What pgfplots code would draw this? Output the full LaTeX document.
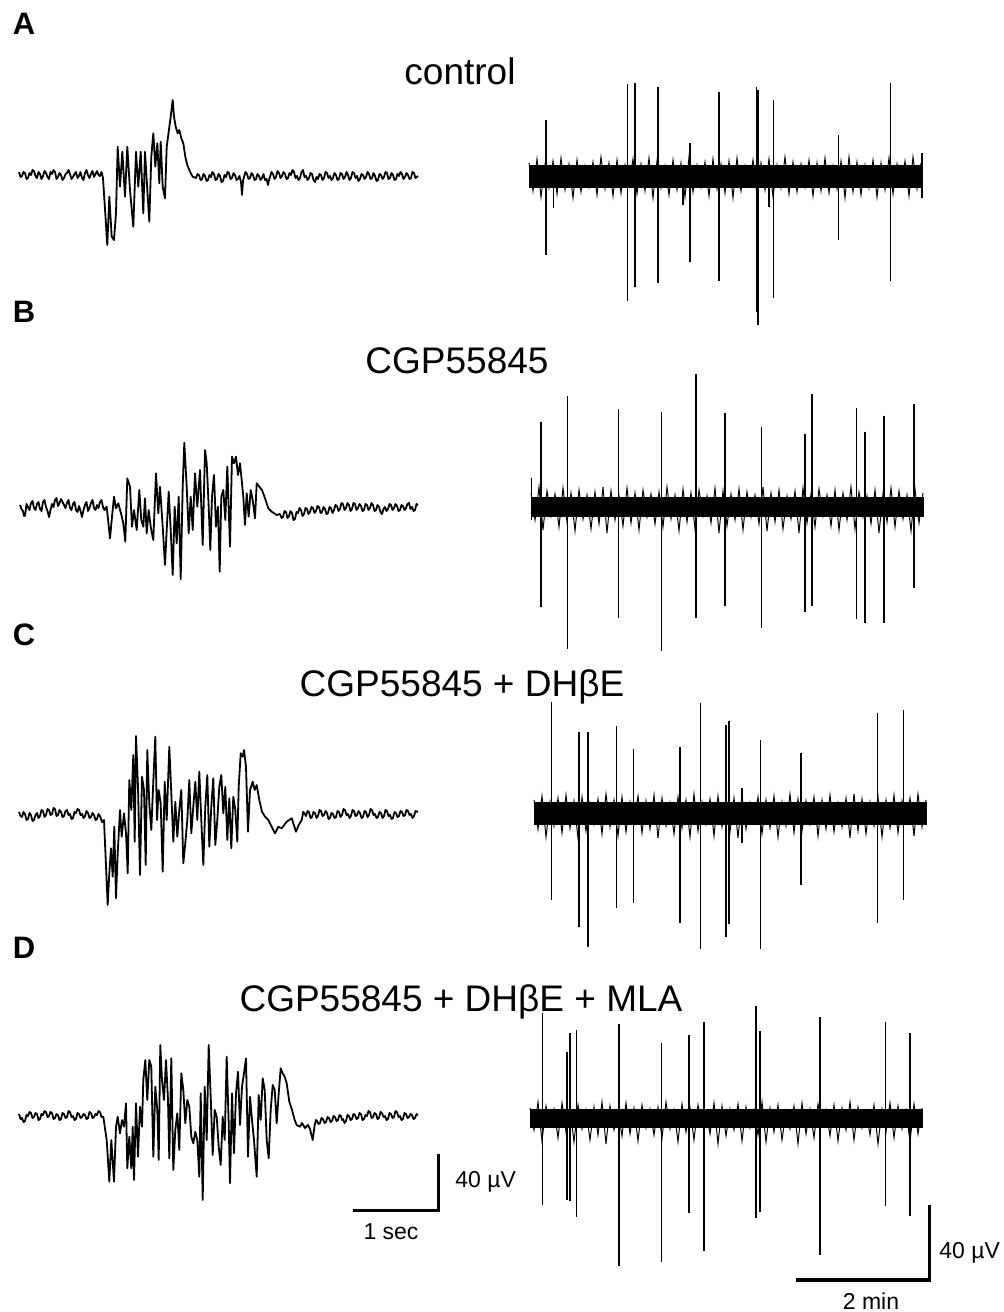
\documentclass[border=0pt]{standalone}
\usepackage{fontspec}
\setmainfont{Liberation Sans}
\usepackage{pgfplots}
\usepackage{pgfplotstable}
\pgfplotsset{compat=1.18}
\begin{document}
% fast noise of the long recordings: alternating upper / lower excursions (pixel units, y downward)
\pgfplotstableread{
x y
529 163
533 191
537 159
541 197
545 165
549 188
553 161
557 194
561 158
565 190
569 164
573 198
577 160
581 192
585 166
589 187
593 162
597 195
601 157
605 189
609 163
613 196
617 160
621 193
625 165
629 186
633 159
637 194
641 164
645 191
649 158
653 198
657 161
661 188
665 166
669 195
673 160
677 190
681 163
685 197
689 157
693 192
697 165
701 187
705 162
709 196
713 159
717 189
721 164
725 193
729 161
733 198
737 158
741 191
745 166
749 186
753 160
757 195
761 163
765 190
769 159
773 197
777 165
781 188
785 157
789 194
793 162
797 192
801 164
805 187
809 160
813 196
817 163
821 191
825 158
829 193
833 166
837 189
841 161
845 198
849 157
853 192
857 162
861 195
865 165
869 188
873 160
877 197
881 163
885 190
889 158
893 194
897 164
901 186
905 161
909 196
913 157
917 189
921 163
}\noiseA
\pgfplotstableread{
x y
531 493
535 520
539 487
543 530
547 491
551 516
555 494
559 527
563 488
567 522
571 493
575 531
579 490
583 519
587 495
591 529
595 492
599 524
603 487
607 533
611 491
615 520
619 496
623 526
627 488
631 523
635 493
639 530
643 490
647 517
651 494
655 524
659 492
663 527
667 487
671 519
675 495
679 531
683 489
687 522
691 493
695 529
699 490
703 516
707 496
711 523
715 488
719 533
723 491
727 526
731 494
735 520
739 489
743 530
747 492
751 517
755 495
759 524
763 487
767 531
771 493
775 522
779 490
783 529
787 496
791 519
795 491
799 533
803 488
807 523
811 494
815 527
819 489
823 516
827 495
831 526
835 490
839 530
843 493
847 520
851 487
855 529
859 492
863 517
867 496
871 524
875 490
879 533
883 494
887 522
891 488
895 527
899 491
903 519
907 495
911 531
915 489
919 523
923 493
}\noiseB
\pgfplotstableread{
x y
534 800
538 829
542 796
546 837
550 802
554 826
558 798
562 833
566 795
570 828
574 801
578 838
582 797
586 831
590 803
594 824
598 799
602 834
606 794
610 827
614 800
618 836
622 797
626 832
630 802
634 823
638 796
642 833
646 801
650 829
654 795
658 838
662 798
666 826
670 803
674 834
678 797
682 828
686 800
690 837
694 794
698 831
702 802
706 824
710 799
714 836
718 796
722 827
726 801
730 832
734 798
738 838
742 795
746 829
750 803
754 823
758 797
762 834
766 800
770 828
774 796
778 837
782 802
786 826
790 794
794 833
798 799
802 831
806 801
810 824
814 797
818 836
822 800
826 829
830 795
834 832
838 803
842 827
846 798
850 838
854 794
858 831
862 799
866 834
870 802
874 826
878 797
882 837
886 800
890 828
894 795
898 833
902 801
906 823
910 798
914 836
918 794
922 827
926 800
}\noiseC
\pgfplotstableread{
x y
530 1108
534 1130
538 1102
542 1141
546 1106
550 1126
554 1109
558 1138
562 1103
566 1132
570 1108
574 1142
578 1105
582 1129
586 1110
590 1140
594 1107
598 1135
602 1102
606 1144
610 1106
614 1130
618 1111
622 1136
626 1103
630 1134
634 1108
638 1141
642 1105
646 1128
650 1109
654 1135
658 1107
662 1138
666 1102
670 1129
674 1110
678 1142
682 1104
686 1132
690 1108
694 1140
698 1105
702 1126
706 1111
710 1134
714 1103
718 1144
722 1106
726 1136
730 1109
734 1130
738 1104
742 1141
746 1107
750 1128
754 1110
758 1135
762 1102
766 1142
770 1108
774 1132
778 1105
782 1140
786 1111
790 1129
794 1106
798 1144
802 1103
806 1134
810 1109
814 1138
818 1104
822 1126
826 1110
830 1136
834 1105
838 1141
842 1108
846 1130
850 1102
854 1140
858 1107
862 1128
866 1111
870 1135
874 1105
878 1144
882 1109
886 1132
890 1103
894 1138
898 1106
902 1129
906 1110
910 1142
914 1104
918 1134
922 1108
}\noiseD
\begin{tikzpicture}
\begin{axis}[
    scale only axis,
    width=502pt, height=656pt,
    xmin=0, xmax=1004, ymin=0, ymax=1312,
    y dir=reverse,
    hide axis, clip=false,
    trace/.style={black, line width=0.9pt, line join=round, mark=none},
    spike/.style={black, line width=0.7pt, mark=none, unbounded coords=jump},
    hair/.style={black, line width=0.5pt, line join=miter, mark=none},
    core/.style={fill=black, draw=black, line width=0.4pt, mark=none},
    scalebar/.style={black, line width=1.6pt, mark=none},
]
\path (axis cs:0,0) rectangle (axis cs:1004,1312);

% ---------- A: control ----------
\addplot[trace] coordinates {
(19,172)(20.5,177)(22,176)(23.5,172)(25,173)(26.5,179)(28,178)(29.5,173)(31,175)(32.5,170)
(34,171)(35.5,176)(37,178)(38.5,172)(40,174)(41.5,179)(43,176)(44.5,171)(46,173)(47.5,177)
(49,179)(50.5,172)(52,174)(53.5,170)(55,172)(56.5,179)(58,177)(59.5,173)(61,175)(62.5,180)
(64,178)(65.5,174)(67,173)(68.5,170)(70,174)(71.5,179)(73,177)(74.5,174)(76,172)(77.5,178)
(79,176)(80.5,172)(82,178)(83.5,180)(85,173)(86.5,170)(88,175)(89.5,178)(91,174)(92.5,171)
(94,177)(95.5,174)(97,171)(98.5,175)(100,176)(101.5,172)(103,178)
(107.3,245)(109.3,196.7)(111.7,236.7)(114,240)(116,213)(117.7,146.7)(120,186.7)
(122.3,151.7)(125,196.7)(127.3,146.7)(130,190)(133.3,226.7)(136,151.7)(138.3,186.7)
(140.7,151.7)(143.3,213.3)(145,151.7)(147.3,190)(149.3,221.7)(151.3,156.7)(153.3,133.3)
(155.3,166.7)(157.3,143.3)(159.3,183.3)(160.7,141.7)(162.7,186.7)(165,198.3)(166.7,146.7)
(168.7,131.7)(170.7,116.7)(172.7,100)(174,116.7)(175.7,126.7)(177.7,133.3)(179.3,130)
(181.3,138.3)(183.3,143.3)(185.3,156.7)(187.3,165)(190,171.7)(192.7,176.7)
(196,178)(197.5,174)(199,175)(200.5,180)(202,179)(203.5,174)(205,176)(206.5,181)(208,180)
(209.5,175)(211,177)(212.5,172)(214,174)(215.5,180)(217,179)(218.5,174)(220,176)(221.5,182)
(223,181)(224.5,175)(226,177)(227.5,172)(229,173)(230.5,179)(232,178)(233.5,173)(235,175)
(236.5,180)(238,179)(239.5,176)(241,182)(242,195)(243,181)(244,177)(245.5,172)(247,174)
(248.5,179)(250,178)(251.5,173)(253,175)(254.5,180)(256,179)(257.5,174)(259,176)(260.5,180)
(262,178)(263.5,174)(265,180)(266.5,179)(268,185)(269,180)(270,177)(271.5,172)(273,174)
(274.5,179)(276,177)(277.5,171)(279,173)(280.5,178)(282,176)(283.5,172)(285,174)(286.5,179)
(288,178)(289.5,173)(291,175)(292.5,170)(294,172)(295.5,178)(297,176)(298.5,180)(300,178)
(301.5,172)(303,170)(304.5,177)(306,176)(307.5,180)(309,178)(310.5,173)(312,174)(313.5,180)
(315,182)(316.5,177)(318,179)(319.5,174)(321,175)(322.5,180)(324,178)(325.5,172)(327,173)
(328.5,178)(330,176)(331.5,180)(333,178)(334.5,173)(336,175)(337.5,180)(339,179)(340.5,173)
(342,174)(343.5,179)(345,177)(346.5,172)(348,175)(349.5,180)(351,178)(352.5,172)(354,173)
(355.5,178)(357,176)(358.5,181)(360,179)(361.5,174)(363,175)(364.5,179)(366,177)(367.5,172)
(369,174)(370.5,179)(372,178)(373.5,173)(375,176)(376.5,181)(378,180)(379.5,174)(381,175)
(382.5,179)(384,177)(385.5,172)(387,173)(388.5,179)(390,178)(391.5,173)(393,175)(394.5,180)
(396,179)(397.5,174)(399,176)(400.5,172)(402,174)(403.5,179)(405,177)(406.5,173)(408,175)
(409.5,179)(411,178)(412.5,172)(414,173)(415.5,178)(418,176)
};
\addplot[core] coordinates {(529,165)(922,165)(922,187)(529,187)};
\addplot[hair] table[x=x, y=y] {\noiseA};
\addplot[spike] coordinates {
(546,120)(546,255)(546,nan)
(553.3,186)(553.3,208)(553.3,nan)
(627.3,84)(627.3,300.7)(627.3,nan)
(635,83.3)(635,286.7)(635,nan)
(658,87.3)(658,283.3)(658,nan)
(683,186)(683,205)(683,nan)
(690,142.7)(690,261.7)(690,nan)
(719,91.7)(719,280.7)(719,nan)
(756.7,86.7)(756.7,311.7)(756.7,nan)
(758,90)(758,325)(758,nan)
(769,186)(769,206.7)(769,nan)
(773.3,100)(773.3,298.3)(773.3,nan)
(838.3,135)(838.3,240)(838.3,nan)
(890.7,82.7)(890.7,280.7)(890.7,nan)
(922,153)(922,198)
};

% ---------- B: CGP55845 ----------
\addplot[trace] coordinates {
(20,505)(21.5,509)(23,511)(24,516)(25,516)(26.5,504)(28,507)(29.5,510)(31,503)(32.5,501)
(34,508)(35.5,510)(37,504)(38.5,502)(40,509)(41.5,511)(43,502)(44.5,500)(46,507)(47.5,511)
(49,517)(50.5,510)(52,504)(53.5,507)(55,500)(56.5,498)(58,506)(59.5,503)(61,499)(62.5,502)
(64,505)(65.5,508)(67,503)(68.5,500)(70,508)(71.5,510)(73,504)(74.5,502)(76,510)(77.5,512)
(79,506)(80.5,511)(82,517)(83.5,510)(85,505)(86.5,502)(88,511)(89.5,508)(91,503)(92.5,500)
(94,508)(95.5,510)(97,505)(98.5,508)(100,502)(101.5,500)(103,507)(104.5,510)(106.7,506.7)
(110,538.3)(111.7,520)(114,496.7)(116,508.3)(118.3,503.3)(121,513.3)(123.3,523.3)
(125.3,541.7)(127.3,478.3)(130,486.7)(132,526.7)(134,510)(136.7,530)(139.3,490)
(141.3,520)(143.3,526.7)(145,498.3)(146.7,533.3)(148.7,510)(150.7,526.7)(153.3,540)
(156,473.3)(158.3,513.3)(160,486.7)(162.7,526.7)(165,565)(166.7,530)(168.7,491.7)
(170.7,530)(172.7,575)(174.7,506.7)(176.7,543.3)(178.7,496.7)(180.7,579.3)(182.7,486.7)
(184.3,442.7)(186.7,486.7)(188.7,533.3)(190.7,496.7)(192.7,530)(195,473.3)(197.3,506.7)
(200,470)(202.7,545)(205,450)(206.7,463.3)(208.7,506.7)(210.3,550)(212,496.7)(214,475)
(216,526.7)(218,506.7)(219.7,571.7)(221.3,496.7)(223.3,490)(225.3,520)(227.3,466.7)
(230,546.7)(232,456.7)(234,463.3)(236,456.7)(238,475)(240,463.3)(241.7,480)(243.3,496.7)
(245,525)(246.7,493.3)(248.7,516.7)(250.7,490)(252.7,500)(255,518.3)(256.7,483.3)
(259.3,486.7)(262,490)(265,498.3)(268.3,508.3)(271.7,511.7)(276.7,515)
(280,514)(281.5,518)(283,517)(284.5,511)(286,512)(287.5,518)(289,516)(290.5,511)(292,513)
(293.5,520)(295,519)(296.5,512)(298,513)(299.5,508)(301,510)(302.5,516)(304,514)(305.5,508)
(307,509)(308.5,514)(310,512)(311.5,507)(313,508)(314.5,513)(316,511)(317.5,506)(319,507)
(320.5,513)(322,512)(323.5,507)(325,509)(326.5,514)(328,513)(329.5,507)(331,508)(332.5,513)
(334,510)(335.5,505)(337,506)(338.5,511)(340,509)(341.5,503)(343,504)(344.5,510)(346,508)
(347.5,503)(349,505)(350.5,511)(352,509)(353.5,503)(355,504)(356.5,510)(358,508)(359.5,504)
(361,506)(362.5,511)(364,510)(365.5,504)(367,505)(368.5,510)(370,508)(371.5,503)(373,505)
(374.5,511)(376,510)(377.5,505)(379,507)(380.5,512)(382,514)(383.5,509)(385,507)(386.5,511)
(388,509)(389.5,504)(391,505)(392.5,510)(394,508)(395.5,504)(397,506)(398.5,511)(400,510)
(401.5,505)(403,506)(404.5,510)(406,508)(407.5,504)(409,503)(410.5,509)(412,507)(413.5,511)
(415,510)(416.5,504)(418,505)
};
\addplot[core] coordinates {(531,497)(923,497)(923,516)(531,516)};
\addplot[hair] table[x=x, y=y] {\noiseB};
\addplot[spike] coordinates {
(531.7,478)(531.7,520)(531.7,nan)
(541,421.7)(541,606.7)(541,nan)
(567.7,396)(567.7,649.3)(567.7,nan)
(618.7,409.3)(618.7,618.3)(618.7,nan)
(661.7,411.7)(661.7,650.7)(661.7,nan)
(696,374)(696,618.3)(696,nan)
(725,412.7)(725,606)(725,nan)
(761.7,427.3)(761.7,628.3)(761.7,nan)
(805,434)(805,611.7)(805,nan)
(812,394)(812,606)(812,nan)
(856.7,408.3)(856.7,619.3)(856.7,nan)
(865,431.7)(865,622.7)(865,nan)
(884,415.7)(884,622.7)(884,nan)
(914,404)(914,588.3)
};

% ---------- C: CGP55845 + DHbE ----------
\addplot[trace] coordinates {
(19,812)(20.5,816)(22,817)(23.5,812)(25,814)(26.5,820)(28,819)(29.5,813)(31,815)(32.5,821)
(34,820)(35.5,815)(37,813)(38.5,818)(40,816)(41.5,810)(43,811)(44.5,817)(46,815)(47.5,809)
(49,810)(50.5,815)(52,814)(53.5,808)(55,809)(56.5,816)(58,815)(59.5,810)(61,812)(62.5,817)
(64,816)(65.5,811)(67,810)(68.5,815)(70,814)(71.5,819)(73,818)(74.5,812)(76,813)(77.5,809)
(79,810)(80.5,815)(82,814)(83.5,818)(85,816)(86.5,811)(88,813)(89.5,818)(91,817)(92.5,813)
(94,815)(95.5,820)(97,819)(98.5,814)(100,816)(102,822)(104,820)
(107.7,905)(109.3,873.3)(111,848.3)(112.7,876.7)(114.3,826.7)(116,898.3)(117.7,853.3)
(120,810)(121.7,836.7)(124,813.3)(126,833.3)(127.7,873.3)(129.3,780)(131.3,810)
(133.3,755)(134.7,841.7)(136,736)(138,786.7)(140,875)(142,776.7)(144,790)(145.7,865)
(147.3,750)(149.3,803.3)(151.3,830)(153.3,781.7)(155.3,736.7)(157,820)(158.7,790)
(160.7,803.3)(162.7,871.7)(164.7,781.7)(166.7,820)(169.3,746.7)(171.3,793.3)(173.3,841.7)
(175.3,801.7)(177.3,836.7)(179.3,810)(181.3,790)(183.3,863.3)(185.3,843.3)(187.3,820)
(189.3,780)(191.3,833.3)(193.3,806.7)(195.3,781.7)(197.3,820)(199.3,771.7)(201.3,820)
(203.3,865)(205.3,806.7)(207.3,775)(209.3,846.7)(211.3,806.7)(213.3,778.3)(215.3,845)
(217.3,820)(219.3,786.7)(221.3,775)(223.3,813.3)(225.3,786.7)(227.3,840)(229.3,798.3)
(231.3,848.3)(233.3,796.7)(235.3,810)(237.3,841.7)(238.7,786.7)(240.7,753.3)(242.7,756.7)
(244,750)(246,766.7)(248,831.7)(250,790)(252.7,781.7)(254.7,790)(256.7,785)(259.3,800)
(262,811.7)(265,816.7)(268.3,820)(271.7,826.7)(275,833.3)(278.3,826.7)(281.7,828.3)
(286.7,821.7)(291.7,818.3)(296,831.7)(298.7,825)(301.7,820)(303.3,811.7)
(306,816)(307.5,811)(309,812)(310.5,818)(312,817)(313.5,812)(315,813)(316.5,818)(318,816)
(319.5,810)(321,811)(322.5,816)(324,815)(325.5,811)(327,813)(328.5,819)(330,818)(331.5,813)
(333,814)(334.5,818)(336,817)(337.5,811)(339,812)(340.5,817)(342,815)(343.5,809)(345,810)
(346.5,815)(348,814)(349.5,818)(351,816)(352.5,810)(354,811)(355.5,816)(357,815)(358.5,811)
(360,813)(361.5,818)(363,817)(364.5,811)(366,812)(367.5,817)(369,815)(370.5,809)(372,810)
(373.5,815)(375,814)(376.5,818)(378,817)(379.5,812)(381,813)(382.5,818)(384,816)(385.5,810)
(387,811)(388.5,816)(390,815)(391.5,819)(393,818)(394.5,812)(396,813)(397.5,817)(399,816)
(400.5,811)(402,812)(403.5,816)(405,815)(406.5,810)(408,811)(409.5,815)(411,814)(412.5,818)
(414,816)(415.5,811)(418,812)
};
\addplot[core] coordinates {(534,802)(926,802)(926,824)(534,824)};
\addplot[hair] table[x=x, y=y] {\noiseC};
\addplot[spike] coordinates {
(551.7,701.7)(551.7,900)(551.7,nan)
(579,731.7)(579,927.3)(579,nan)
(588,731.7)(588,946.7)(588,nan)
(616.3,726)(616.3,908.3)(616.3,nan)
(633.3,749.3)(633.3,903.3)(633.3,nan)
(680,746.7)(680,923.3)(680,nan)
(700.7,703.3)(700.7,949.3)(700.7,nan)
(726,725)(726,936.7)(726,nan)
(729,720.7)(729,924)(729,nan)
(742,788.3)(742,843.3)(742,nan)
(760.7,740)(760.7,949.3)(760.7,nan)
(801,752.7)(801,885)(801,nan)
(877.7,712.7)(877.7,922.7)(877.7,nan)
(903.7,710)(903.7,900)
};

% ---------- D: CGP55845 + DHbE + MLA ----------
\addplot[trace] coordinates {
(19,1114)(20.5,1119)(22,1118)(23.5,1122)(25,1121)(26.5,1115)(28,1116)(29.5,1112)(31,1113)
(32.5,1118)(34,1117)(35.5,1113)(37,1114)(38.5,1120)(40,1119)(41.5,1114)(43,1115)(44.5,1111)
(46,1112)(47.5,1117)(49,1116)(50.5,1112)(52,1113)(53.5,1119)(55,1118)(56.5,1114)(58,1115)
(59.5,1120)(61,1119)(62.5,1113)(64,1114)(65.5,1118)(67,1117)(68.5,1111)(70,1112)(71.5,1117)
(73,1116)(74.5,1120)(76,1119)(77.5,1113)(79,1114)(80.5,1118)(82,1117)(83.5,1114)(85,1115)
(86.5,1119)(88,1118)(89.5,1112)(91,1113)(92.5,1118)(94,1117)(95.5,1114)(97,1115)(98.5,1111)
(100,1112)(101.5,1117)(103.3,1116.7)
(106.7,1140)(109.3,1181.7)(111.3,1140)(114,1181.7)(116,1126.7)(117.7,1116.7)(120,1133.3)
(122,1120)(124,1126.7)(126,1103.3)(127.3,1168.3)(129.3,1136.7)(131.3,1168.3)(132.7,1126.7)
(134,1180)(136,1103.3)(138,1156.7)(140,1106.7)(142,1126.7)(143.3,1080)(145.3,1060)
(147.3,1100)(149.3,1060)(151.3,1066.7)(153.3,1156.7)(155.3,1086.7)(157.3,1110)(158.7,1160)
(160.3,1045)(162,1080)(164,1100)(166,1060)(168,1100)(169.3,1158.3)(171.3,1058.3)
(173.3,1170)(175.3,1130)(177.3,1113.3)(179.3,1150)(181.3,1073.3)(183.3,1090)(185.3,1123.3)
(187.3,1100)(189.3,1106.7)(191.3,1136.7)(193.3,1143.3)(195.3,1131.7)(197.3,1140)
(199.3,1176.7)(200.7,1093.3)(202.7,1200)(204.7,1086.7)(206.7,1140)(208.7,1045)(210.7,1096.7)
(212.7,1155)(214.7,1110)(216.7,1116.7)(218.7,1146.7)(220.7,1165)(222.7,1116.7)(224.7,1140)
(226.7,1056.7)(228.7,1123.3)(230,1183.3)(232,1093.3)(234,1153.3)(236,1093.3)(238,1071.7)
(240,1125)(242,1086.7)(244,1073.3)(246,1058.3)(248,1156.7)(250,1096.7)(252,1120)(254,1140)
(256.7,1176.7)(258.7,1095)(260.7,1120)(262.7,1078.3)(264.7,1090)(266.7,1140)(268.7,1158.3)
(270.7,1110)(272.7,1085)(274.7,1090)(276.7,1123.3)(278.7,1093.3)(280.7,1068.3)(282.7,1073.3)
(284.7,1076.7)(286.7,1083.3)(289.3,1101.7)(292,1110)(294.7,1120)(296.7,1125)(300,1126.7)
(302,1123)(305,1128)(308,1125)(310,1129)(312.7,1140)
(314.7,1125)(316,1120)(317,1121)(318.5,1124)(320,1123)(321.5,1118)(323,1119)(324.5,1123)
(326,1122)(327.5,1117)(329,1118)(330.5,1122)(332,1121)(333.5,1116)(335,1117)(336.5,1121)
(338,1120)(339.5,1115)(341,1116)(342,1120)(343,1119)(344.5,1123)(346,1121)(347.5,1115)
(349,1116)(350.5,1120)(352,1119)(353.5,1114)(355,1115)(356.5,1119)(358,1118)(359.5,1113)
(361,1114)(362.5,1120)(364,1119)(365.5,1115)(367,1116)(368.5,1111)(370,1112)(371.5,1118)
(373,1117)(374.5,1113)(376,1114)(377.5,1119)(379,1118)(380.5,1112)(382,1113)(383.5,1117)
(385,1116)(386.5,1120)(388,1119)(389.5,1113)(391,1114)(392.5,1118)(394,1117)(395.5,1111)
(397,1112)(398.5,1117)(400,1116)(401.5,1120)(403,1119)(404.5,1113)(406,1114)(407.5,1118)
(409,1117)(410.5,1114)(412,1115)(413.5,1119)(415,1118)(416.5,1114)(418,1115)
};
\addplot[core] coordinates {(530,1109)(922,1109)(922,1127)(530,1127)};
\addplot[hair] table[x=x, y=y] {\noiseD};
\addplot[spike] coordinates {
(542.7,1013.3)(542.7,1205)(542.7,nan)
(567,1051.7)(567,1200)(567,nan)
(570,1032.7)(570,1200.7)(570,nan)
(576.3,1030)(576.3,1217.3)(576.3,nan)
(619,1024)(619,1266)(619,nan)
(661.7,1042.7)(661.7,1262)(661.7,nan)
(689,1035)(689,1212.7)(689,nan)
(704,1021.7)(704,1250.7)(704,nan)
(756,1006)(756,1218.3)(756,nan)
(760,1030.7)(760,1211.7)(760,nan)
(820,1017.3)(820,1255)(820,nan)
(885.3,1021.7)(885.3,1206)(885.3,nan)
(910,1032.7)(910,1216)
};

% ---------- scale bars ----------
\addplot[scalebar] coordinates {(353.3,1210.7)(438.3,1210.7)(438.3,1154)};
\addplot[scalebar] coordinates {(795.7,1280)(929.3,1280)(929.3,1205)};

% ---------- text ----------
\node[inner sep=0pt, anchor=base west, font=\fontsize{15.5}{17}\selectfont\bfseries] at (axis cs:12.5,34) {A};
\node[inner sep=0pt, anchor=base west, font=\fontsize{15.5}{17}\selectfont\bfseries] at (axis cs:12.5,322) {B};
\node[inner sep=0pt, anchor=base west, font=\fontsize{15.5}{17}\selectfont\bfseries] at (axis cs:12.5,645) {C};
\node[inner sep=0pt, anchor=base west, font=\fontsize{15.5}{17}\selectfont\bfseries] at (axis cs:12.5,958) {D};
\node[inner sep=0pt, anchor=base, font=\fontsize{18.5}{20}\selectfont] at (axis cs:460,84) {control};
\node[inner sep=0pt, anchor=base, font=\fontsize{18.5}{20}\selectfont] at (axis cs:457,373) {CGP55845};
\node[inner sep=0pt, anchor=base, font=\fontsize{18.5}{20}\selectfont] at (axis cs:462,696) {CGP55845 + DHβE};
\node[inner sep=0pt, anchor=base, font=\fontsize{18.5}{20}\selectfont] at (axis cs:461,1011) {CGP55845 + DHβE + MLA};
\node[inner sep=0pt, anchor=base west, font=\fontsize{11.5}{13}\selectfont] at (axis cs:455,1187) {40 µV};
\node[inner sep=0pt, anchor=base, font=\fontsize{11.5}{13}\selectfont] at (axis cs:391,1239) {1 sec};
\node[inner sep=0pt, anchor=base west, font=\fontsize{11.5}{13}\selectfont] at (axis cs:939,1258) {40 µV};
\node[inner sep=0pt, anchor=base, font=\fontsize{11.5}{13}\selectfont] at (axis cs:871,1309) {2 min};
\end{axis}
\end{tikzpicture}
\end{document}
